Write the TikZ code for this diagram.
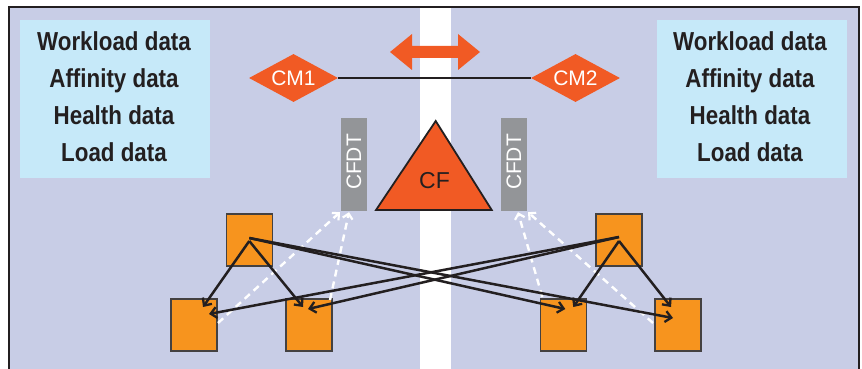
\documentclass[tikz,border=0pt]{standalone}
\usepackage{fontspec}
\setmainfont{Liberation Sans}
\newfontfamily\condbold[FakeStretch=0.86]{Liberation Sans}
\usetikzlibrary{arrows.meta,shapes.geometric,calc}
\definecolor{lav}{HTML}{C8CDE6}
\definecolor{lblue}{HTML}{C6E9F9}
\definecolor{ored}{HTML}{F15A24}
\definecolor{oran}{HTML}{F7941E}
\definecolor{gry}{HTML}{939598}
\definecolor{ink}{HTML}{231F20}
\tikzset{
  databox/.style={fill=lblue, minimum width=190pt, minimum height=158pt, inner sep=0pt},
  datatext/.style={font=\condbold\bfseries\fontsize{26}{37}\selectfont, text=ink, align=center, inner sep=0pt},
  cmnode/.style={diamond, fill=ored, text=white, font=\fontsize{21}{21}\selectfont, minimum width=89pt, minimum height=48pt, inner sep=0pt, aspect=1.85},
  cfdtbox/.style={fill=gry, minimum width=26pt, minimum height=93pt, inner sep=0pt},
  cfdttext/.style={text=white, font=\fontsize{21}{21}\selectfont, rotate=90, inner sep=0pt},
  sysbox/.style={fill=oran, draw=ink!85, line width=1.3pt, minimum width=46pt, minimum height=52pt, inner sep=0pt},
  flow/.style={draw=ink, line width=2.5pt, -{Straight Barb[length=6pt,width=11pt,line width=2.3pt]}},
  report/.style={draw=white, line width=2.4pt, dash pattern=on 7pt off 5pt, -{Straight Barb[length=5pt,width=10pt,line width=2.2pt]}}
}
\begin{document}
\begin{tikzpicture}[x=1pt,y=-1pt]
\useasboundingbox (0,0) rectangle (862,369);
% panels
\fill[lav] (9,7.5) rectangle (420,385);
\fill[lav] (451,7.5) rectangle (858.5,385);
\draw[ink, line width=2pt] (9,7.5) rectangle (858.5,385);
% data boxes
\node[databox] (lbox) at (115,99) {};
\node[datatext] (ltext) at (114,96.5) {Workload data\\Affinity data\\Health data\\Load data};
\node[databox] (rbox) at (752,99) {};
\node[datatext] (rtext) at (750,96.5) {Workload data\\Affinity data\\Health data\\Load data};
% double arrow
\fill[ored] (390,52) -- (412,34) -- (412,46) -- (458,46) -- (458,34) -- (480,52) -- (458,70) -- (458,58) -- (412,58) -- (412,70) -- cycle;
% CMs
\node[cmnode] (cm1) at (293.5,78) {CM1};
\node[cmnode] (cm2) at (575.5,78) {CM2};
\draw[ink, line width=1.6pt] (cm1.east) -- (cm2.west);
% CF
\draw[fill=ored, draw=ink, line width=1.8pt, line join=miter] (376,210) -- (435.7,121) -- (491.7,210) -- cycle;
\node[text=ink, font=\fontsize{23}{23}\selectfont, inner sep=0pt] (cf) at (434.5,181) {CF};
% CFDT
\node[cfdtbox] (cfdt1) at (354,164.5) {};
\node[cfdttext] (cfdt1t) at (354,162) {CFDT};
\node[cfdtbox] (cfdt2) at (514,164.5) {};
\node[cfdttext] (cfdt2t) at (514,162) {CFDT};
% systems
\node[sysbox] (tl) at (249.3,240) {};
\node[sysbox] (bl1) at (194,325) {};
\node[sysbox] (bl2) at (309,325) {};
\node[sysbox] (tr) at (619,240) {};
\node[sysbox] (br1) at (563.3,325) {};
\node[sysbox] (br2) at (678,325) {};
% dashed white reports
\draw[report] ($(bl1.center)+(24,-2)$) -- ($(cfdt1.south)+(-14,1)$);
\draw[report] ($(bl2.center)+(21,-25)$) -- ($(cfdt1.south)+(-5,1)$);
\draw[report] ($(br1.center)+(-21,-28)$) -- ($(cfdt2.south)+(4,1)$);
\draw[report] ($(br2.center)+(-25,-2)$) -- ($(cfdt2.south)+(14,1)$);
% black flows
\draw[flow] ($(tl.center)+(0,1)$) -- ($(bl1.center)+(9,-18)$);
\draw[flow] ($(tl.center)+(0,1)$) -- ($(bl2.center)+(-6,-18)$);
\draw[flow] ($(tl.center)+(0,-2)$) -- ($(br1.center)+(2,-16)$);
\draw[flow] ($(tl.center)+(0,-2)$) -- ($(br2.center)+(-5,-7)$);
\draw[flow] ($(tr.center)+(0,1)$) -- ($(br1.center)+(10,-18)$);
\draw[flow] ($(tr.center)+(0,1)$) -- ($(br2.center)+(-7,-18)$);
\draw[flow] ($(tr.center)+(0,-3)$) -- ($(bl1.center)+(15,-11)$);
\draw[flow] ($(tr.center)+(0,-3)$) -- ($(bl2.center)+(-1,-16)$);
\end{tikzpicture}
\end{document}
